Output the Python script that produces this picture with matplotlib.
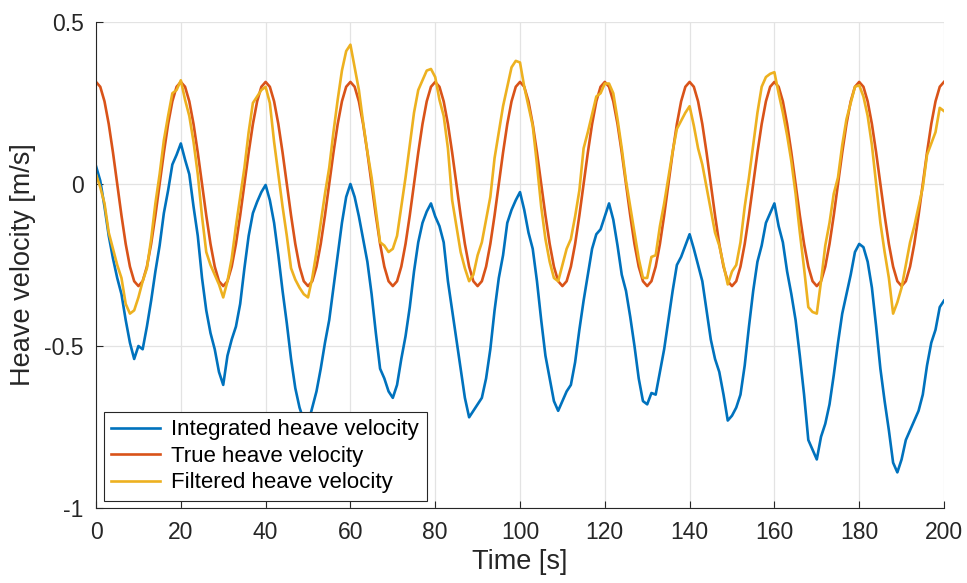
import matplotlib
matplotlib.use("Agg")
import matplotlib.pyplot as plt
import numpy as np

plt.rcParams["font.family"] = ["Liberation Sans", "DejaVu Sans"]

# time axis, one sample per second
time_s = np.arange(0, 201)

# true heave velocity [m/s]
true_vel = [
    0.315, 0.300, 0.255, 0.185, 0.097, 0.000, -0.097, -0.185, -0.255, -0.300,
    -0.315, -0.300, -0.255, -0.185, -0.097, 0.000, 0.097, 0.185, 0.255, 0.300,
] * 10 + [0.315]

# integrated heave velocity [m/s]
integrated_vel = [
    0.055, 0.01, -0.07, -0.16, -0.23, -0.29, -0.34, -0.42, -0.49, -0.54,
    -0.50, -0.51, -0.44, -0.36, -0.27, -0.19, -0.09, -0.02, 0.06, 0.09,
    0.125, 0.075, 0.03, -0.07, -0.16, -0.29, -0.39, -0.46, -0.51, -0.58,
    -0.62, -0.53, -0.48, -0.44, -0.37, -0.26, -0.16, -0.09, -0.055, -0.025,
    -0.003, -0.05, -0.12, -0.22, -0.33, -0.43, -0.54, -0.63, -0.69, -0.73,
    -0.74, -0.69, -0.64, -0.57, -0.49, -0.42, -0.32, -0.22, -0.12, -0.04,
    0.0, -0.04, -0.10, -0.17, -0.24, -0.34, -0.46, -0.57, -0.60, -0.64,
    -0.66, -0.62, -0.54, -0.47, -0.38, -0.27, -0.18, -0.12, -0.085, -0.06,
    -0.10, -0.13, -0.18, -0.30, -0.39, -0.48, -0.57, -0.66, -0.72, -0.70,
    -0.68, -0.66, -0.60, -0.51, -0.39, -0.29, -0.22, -0.12, -0.08, -0.05,
    -0.025, -0.08, -0.15, -0.20, -0.30, -0.42, -0.53, -0.60, -0.67, -0.70,
    -0.67, -0.64, -0.62, -0.55, -0.45, -0.36, -0.28, -0.20, -0.155, -0.14,
    -0.10, -0.06, -0.11, -0.19, -0.28, -0.33, -0.41, -0.50, -0.60, -0.67,
    -0.68, -0.645, -0.65, -0.58, -0.51, -0.42, -0.33, -0.25, -0.225, -0.19,
    -0.155, -0.20, -0.25, -0.30, -0.39, -0.48, -0.54, -0.58, -0.65, -0.73,
    -0.715, -0.69, -0.65, -0.56, -0.44, -0.33, -0.24, -0.19, -0.12, -0.09,
    -0.06, -0.13, -0.18, -0.27, -0.34, -0.42, -0.53, -0.65, -0.79, -0.82,
    -0.85, -0.78, -0.74, -0.68, -0.59, -0.49, -0.40, -0.34, -0.28, -0.21,
    -0.185, -0.195, -0.24, -0.32, -0.44, -0.57, -0.67, -0.76, -0.86, -0.89,
    -0.85, -0.79, -0.76, -0.73, -0.70, -0.65, -0.56, -0.49, -0.45, -0.38,
    -0.36,
]

# filtered heave velocity [m/s]
filtered_vel = [
    0.03, -0.01, -0.06, -0.15, -0.20, -0.25, -0.29, -0.37, -0.40, -0.39,
    -0.35, -0.30, -0.26, -0.17, -0.06, 0.03, 0.135, 0.21, 0.28, 0.29,
    0.32, 0.26, 0.21, 0.13, 0.03, -0.10, -0.21, -0.25, -0.28, -0.31,
    -0.35, -0.30, -0.23, -0.13, -0.04, 0.05, 0.16, 0.25, 0.27, 0.29,
    0.30, 0.25, 0.13, 0.03, -0.07, -0.16, -0.26, -0.295, -0.32, -0.34,
    -0.35, -0.29, -0.21, -0.12, -0.03, 0.05, 0.16, 0.26, 0.35, 0.41,
    0.43, 0.36, 0.29, 0.19, 0.10, 0.02, -0.08, -0.18, -0.19, -0.21,
    -0.20, -0.16, -0.07, 0.02, 0.12, 0.22, 0.29, 0.32, 0.35, 0.355,
    0.33, 0.26, 0.21, 0.11, -0.05, -0.13, -0.21, -0.26, -0.30, -0.28,
    -0.22, -0.18, -0.11, -0.04, 0.08, 0.16, 0.24, 0.30, 0.36, 0.38,
    0.375, 0.30, 0.24, 0.18, 0.06, -0.07, -0.17, -0.24, -0.29, -0.30,
    -0.25, -0.20, -0.17, -0.10, -0.02, 0.11, 0.16, 0.215, 0.27, 0.28,
    0.31, 0.31, 0.28, 0.20, 0.11, 0.01, -0.07, -0.15, -0.23, -0.29,
    -0.29, -0.225, -0.22, -0.13, -0.06, 0.02, 0.10, 0.17, 0.195, 0.22,
    0.24, 0.18, 0.11, 0.06, -0.01, -0.08, -0.15, -0.19, -0.25, -0.31,
    -0.27, -0.25, -0.18, -0.07, 0.02, 0.12, 0.22, 0.30, 0.33, 0.34,
    0.345, 0.28, 0.22, 0.15, 0.07, -0.03, -0.15, -0.26, -0.38, -0.395,
    -0.40, -0.30, -0.19, -0.12, -0.03, 0.02, 0.12, 0.20, 0.25, 0.30,
    0.305, 0.27, 0.21, 0.12, 0.00, -0.12, -0.21, -0.29, -0.40, -0.365,
    -0.32, -0.25, -0.18, -0.13, -0.07, -0.01, 0.09, 0.125, 0.16, 0.235,
    0.225,
]

series_labels = ["Integrated heave velocity", "True heave velocity", "Filtered heave velocity"]
x_ticks = [0, 20, 40, 60, 80, 100, 120, 140, 160, 180, 200]
y_ticks = [-1, -0.5, 0, 0.5]
y_ticklabels = ["-1", "-0.5", "0", "0.5"]

fig = plt.figure(figsize=(9.67, 5.83), dpi=100)
ax = fig.add_axes([0.0993, 0.1286, 0.8769, 0.8337])

ax.plot(time_s, integrated_vel, color="#0072BD", lw=1.9, label=series_labels[0])
ax.plot(time_s, true_vel, color="#D95319", lw=1.9, label=series_labels[1])
ax.plot(time_s, filtered_vel, color="#EDB120", lw=1.9, label=series_labels[2])

ax.set_xlim(0, 200)
ax.set_ylim(-1, 0.5)
ax.set_xticks(x_ticks)
ax.set_yticks(y_ticks)
ax.set_yticklabels(y_ticklabels)
ax.grid(True, color="#e3e3e3", lw=0.9)
ax.set_axisbelow(True)
for side in ("top", "right"):
    ax.spines[side].set_visible(False)
for side in ("left", "bottom"):
    ax.spines[side].set_color("#262626")
    ax.spines[side].set_linewidth(0.8)
ax.tick_params(direction="in", length=5, width=0.8, colors="#262626", labelsize=16.5)
ax.tick_params(axis="x", pad=9)
ax.tick_params(axis="y", pad=9)

ax.set_xlabel("Time [s]", fontsize=19.5, color="#262626", labelpad=4)
ax.set_ylabel("Heave velocity [m/s]", fontsize=19.5, color="#262626", labelpad=6)

leg = ax.legend(loc="lower left", bbox_to_anchor=(0.009, 0.014), fontsize=16, fancybox=False,
                framealpha=1, edgecolor="#262626", handlelength=2.2, handletextpad=0.5,
                borderpad=0.35, labelspacing=0.25, borderaxespad=0)
leg.get_frame().set_linewidth(0.8)

fig.savefig("out.png", dpi=100)
